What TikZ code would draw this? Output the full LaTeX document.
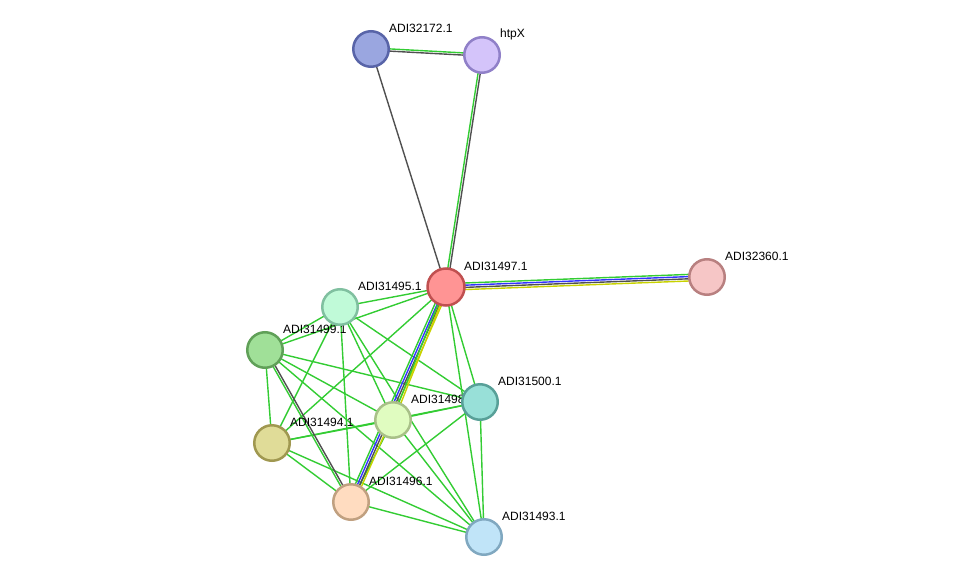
\documentclass[tikz,border=0pt]{standalone}
\usepackage{fontspec}
\setmainfont{Liberation Sans}
\usetikzlibrary{calc,backgrounds}
\definecolor{eg}{RGB}{51,204,51}
\definecolor{eb}{RGB}{51,51,255}
\definecolor{ek}{RGB}{80,80,80}
\definecolor{ey}{RGB}{200,210,0}
\tikzset{
  prot/.style={circle,minimum size=35.5pt,inner sep=0pt,line width=2.5pt},
  lbl/.style={anchor=west,font=\fontsize{12}{14}\selectfont,inner sep=0pt},
  edge/.style={line width=1.4pt},
}
\newcommand{\medge}[4]{\draw[edge,#4] ($(#1)!#3!90:(#2)$) -- ($(#2)!#3!-90:(#1)$);}
\begin{document}
\begin{tikzpicture}[x=1pt,y=-1pt]
\useasboundingbox (0,0) rectangle (976,583);
% positions
\coordinate (c172) at (371,49);
\coordinate (chtp) at (482,55);
\coordinate (c497) at (446,287);
\coordinate (c360) at (707,277);
\coordinate (c495) at (340,307);
\coordinate (c499) at (265,350);
\coordinate (c500) at (480,402);
\coordinate (c498) at (393,420);
\coordinate (c494) at (272,443);
\coordinate (c496) at (351,502);
\coordinate (c493) at (484,537);
% green single edges
\foreach \a/\b in {495/497,495/499,495/498,495/500,495/494,495/496,495/493,
  499/497,499/498,499/500,499/494,499/493,
  497/500,497/493,497/494,
  498/500,498/494,498/496,498/493,
  500/496,500/493,500/494,
  494/496,494/493,496/493}
  \draw[edge,eg] (c\a) -- (c\b);
% dark single
\draw[edge,ek] (c172) -- (c497);
% multi edges
\medge{c172}{chtp}{1.1pt}{eg}
\medge{c172}{chtp}{-1.1pt}{ek}
\medge{c497}{chtp}{1.1pt}{eg}
\medge{c497}{chtp}{-1.1pt}{ek}
\medge{c497}{c360}{3.3pt}{eg}
\medge{c497}{c360}{1.1pt}{eb}
\medge{c497}{c360}{-1.1pt}{ek}
\medge{c497}{c360}{-3.3pt}{ey}
\medge{c496}{c497}{3.3pt}{eg}
\medge{c496}{c497}{1.1pt}{eb}
\medge{c496}{c497}{-1.1pt}{ek}
\medge{c496}{c497}{-3.3pt}{ey}
\medge{c498}{c497}{1.1pt}{eg}
\medge{c498}{c497}{-1.1pt}{ey}
\medge{c496}{c499}{1.1pt}{eg}
\medge{c496}{c499}{-1.1pt}{ek}
% labels
\node[lbl] (l172) at ($(c172)+(18,-21)$) {ADI32172.1};
\node[lbl] (lhtp) at ($(chtp)+(18,-21)$) {htpX};
\node[lbl] (l497) at ($(c497)+(18,-21)$) {ADI31497.1};
\node[lbl] (l360) at ($(c360)+(18,-21)$) {ADI32360.1};
\node[lbl] (l495) at ($(c495)+(18,-21)$) {ADI31495.1};
\node[lbl] (l499) at ($(c499)+(18,-21)$) {ADI31499.1};
\node[lbl] (l500) at ($(c500)+(18,-21)$) {ADI31500.1};
\node[lbl] (l498) at ($(c498)+(18,-21)$) {ADI31498.1};
\node[lbl] (l494) at ($(c494)+(18,-21)$) {ADI31494.1};
\node[lbl] (l496) at ($(c496)+(18,-21)$) {ADI31496.1};
\node[lbl] (l493) at ($(c493)+(18,-21)$) {ADI31493.1};
% nodes
\node[prot,fill={rgb,255:red,154;green,166;blue,224},draw={rgb,255:red,88;green,100;blue,168}] (n172) at (c172) {};
\node[prot,fill={rgb,255:red,212;green,196;blue,250},draw={rgb,255:red,144;green,128;blue,200}] (nhtp) at (chtp) {};
\node[prot,minimum size=37pt,fill={rgb,255:red,255;green,148;blue,148},draw={rgb,255:red,192;green,80;blue,80}] (n497) at (c497) {};
\node[prot,fill={rgb,255:red,246;green,198;blue,198},draw={rgb,255:red,184;green,128;blue,128}] (n360) at (c360) {};
\node[prot,fill={rgb,255:red,192;green,250;blue,216},draw={rgb,255:red,128;green,192;blue,160}] (n495) at (c495) {};
\node[prot,fill={rgb,255:red,160;green,224;blue,152},draw={rgb,255:red,96;green,160;blue,88}] (n499) at (c499) {};
\node[prot,fill={rgb,255:red,152;green,224;blue,216},draw={rgb,255:red,88;green,160;blue,152}] (n500) at (c500) {};
\node[prot,fill={rgb,255:red,224;green,252;blue,192},draw={rgb,255:red,168;green,192;blue,136}] (n498) at (c498) {};
\node[prot,fill={rgb,255:red,224;green,220;blue,152},draw={rgb,255:red,160;green,152;blue,80}] (n494) at (c494) {};
\node[prot,fill={rgb,255:red,255;green,220;blue,192},draw={rgb,255:red,192;green,160;blue,128}] (n496) at (c496) {};
\node[prot,fill={rgb,255:red,192;green,228;blue,248},draw={rgb,255:red,128;green,168;blue,192}] (n493) at (c493) {};
\end{tikzpicture}
\end{document}
